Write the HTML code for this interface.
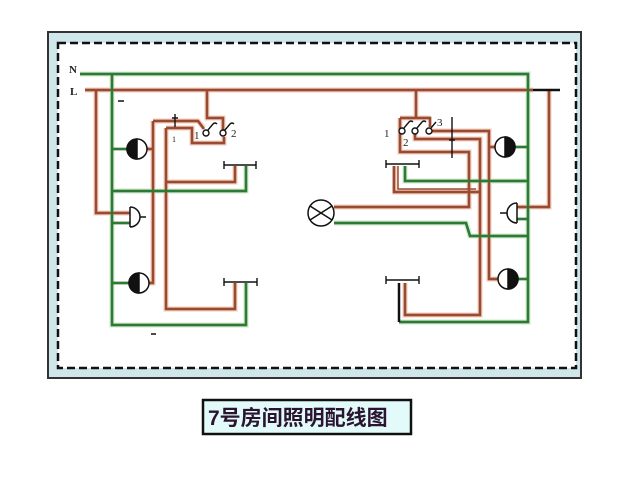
<!DOCTYPE html>
<html><head><meta charset="utf-8"><style>
html,body{margin:0;padding:0;background:#fff;width:640px;height:480px;overflow:hidden}
svg{display:block}
.br{fill:none;stroke:#9a4a30;stroke-width:2.7;stroke-linejoin:miter}
.brh{fill:none;stroke:#f8dccf;stroke-width:5.5}
.gr{fill:none;stroke:#2e7a34;stroke-width:2.7}
.grh{fill:none;stroke:#ddf0dd;stroke-width:5.5}
.bk{fill:none;stroke:#111;stroke-width:1.4}
.t{font-family:"Liberation Serif",serif;font-size:11px;fill:#222}
</style></head><body>
<svg width="640" height="480" viewBox="0 0 640 480" xmlns="http://www.w3.org/2000/svg">
<!-- frame -->
<rect x="48" y="32" width="533" height="346" fill="#cfe6ea" stroke="#333" stroke-width="2"/>
<rect x="58" y="43" width="518" height="325" fill="#fff" stroke="#111" stroke-width="2.5" stroke-dasharray="8,4"/>

<!-- halos -->
<g class="brh">
<path d="M85,90 H533"/>
<path d="M96,90 V213 H130"/>
<path d="M207,90 V118 H223 V131"/>
<path d="M153,121 H198 L204,128 M153,121 V283 H149 M147,149 H153"/>
<path d="M166,128 H192 V143 H224 V136 M166,128 V309 H235 V283"/>
<path d="M166,182 H235 V166"/>
<path d="M416,90 V118 M400,118 H430 M400,118 V152 H469 V207 H334"/>
<path d="M415,134 V139 H480 V315 H405 V283"/>
<path d="M432,131 H489 V279 H498 M489,147 H495"/>
<path d="M395,166 V192 H479"/>
<path d="M549,90 V207 H517"/>
</g>
<g class="grh">
<path d="M80,74 H528 V322 H399"/>
<path d="M112,74 V325 H246 V283"/>
<path d="M112,191 H246 V166"/>
<path d="M405,166 V181 H528"/>
<path d="M334,223 H466 L470,236 H528"/>
</g>

<!-- brown wires -->
<g class="br">
<path d="M85,90 H533"/>
<path d="M96,90 V213 H130"/>
<path d="M207,90 V118 H223 V130"/>
<path d="M153,121 H198 L204,129"/>
<path d="M153,121 V283 H149"/>
<path d="M147,149 H153"/>
<path d="M166,128 H192 V143 H224 V137"/>
<path d="M166,128 V309 H235 V283"/>
<path d="M166,182 H235 V166"/>
<path d="M416,90 V118"/>
<path d="M400,118 H430 V127"/>
<path d="M400,118 V152 H469 V207 H334"/>
<path d="M415,134 V139 H480 V315 H405 V283"/>
<path d="M432,131 H489 V279 H498"/>
<path d="M489,147 H495"/>
<path d="M394,166 V192 H479"/>
<path d="M398,166 V189 H476" style="stroke-width:1.5"/>
<path d="M549,90 V207 H517"/>
</g>

<!-- green wires -->
<g class="gr">
<path d="M80,74 H528 V322 H399"/>
<path d="M112,74 V325 H246 V283"/>
<path d="M112,149 H127"/>
<path d="M112,191 H246 V166"/>
<path d="M112,223 H130"/>
<path d="M112,283 H129"/>
<path d="M405,166 V181 H528"/>
<path d="M334,223 H466 L470,236 H528"/>
<path d="M515,147 H528"/>
<path d="M517,219 H528"/>
<path d="M518,279 H528"/>
</g>

<!-- black bits -->
<path d="M533,90 H560" stroke="#111" stroke-width="2.5"/>
<path d="M399,283 V322" stroke="#111" stroke-width="2.5"/>

<!-- switch symbols -->
<g class="bk">
<path d="M224,165 H256 M224,161 V169 M256,161 V169"/>
<path d="M224,282 H257 M224,278 V286 M257,278 V286"/>
<path d="M386,164 H419 M386,160 V168 M419,160 V168"/>
<path d="M386,280 H419 M386,276 V284 M419,276 V284"/>
<!-- cut marks -->
<path d="M175,114 V127 M172,118 H178"/>
<path d="M452,117 V158 M449,140 H455"/>
<!-- small dashes -->
<path d="M118,101 H124 M151,334 H156"/>
</g>

<!-- switch contacts -->
<g stroke="#111" stroke-width="1.4" fill="#fff">
<circle cx="206" cy="133" r="3"/>
<circle cx="223" cy="133" r="3"/>
<circle cx="402" cy="131" r="3"/>
<circle cx="415" cy="131" r="3"/>
<circle cx="429" cy="131" r="3"/>
</g>
<g class="bk">
<path d="M208,130 L213,124 Q215,122 217,124"/>
<path d="M225,130 L230,124 Q232,122 234,124"/>
<path d="M404,128 L409,122 Q411,120 413,122"/>
<path d="M417,128 L422,122 Q424,120 426,122"/>
<path d="M431,128 L436,122"/>
</g>

<!-- lamps -->
<g stroke="#111" stroke-width="1.5">
<circle cx="137" cy="149" r="10" fill="#fff"/>
<path d="M137,139 A10,10 0 0 0 137,159 Z" fill="#111"/>
<circle cx="139" cy="283" r="10" fill="#fff"/>
<path d="M139,273 A10,10 0 0 0 139,293 Z" fill="#111"/>
<circle cx="505" cy="147" r="10" fill="#fff"/>
<path d="M505,137 A10,10 0 0 1 505,157 Z" fill="#111"/>
<circle cx="508" cy="279" r="10" fill="#fff"/>
<path d="M508,269 A10,10 0 0 1 508,289 Z" fill="#111"/>
<circle cx="321" cy="213" r="13" fill="#fff"/>
<path d="M310,206 L332,220 M310,220 L332,206" fill="none"/>
</g>

<!-- sockets -->
<g class="bk" style="stroke-width:1.5">
<path d="M130,207 V227 M130,207 A10,10 0 0 1 130,227 M140,217 H146"/>
<path d="M517,203 V223 M517,203 A10,10 0 0 0 517,223 M507,213 H500"/>
</g>

<!-- labels -->
<text x="69" y="73" class="t" style="font-weight:bold;font-size:11px">N</text>
<text x="70" y="95" class="t" style="font-weight:bold;font-size:11px">L</text>
<text x="194" y="139" class="t">1</text>
<text x="231" y="137" class="t">2</text>
<text x="172" y="142" class="t" style="font-size:8px">1</text>
<text x="384" y="137" class="t">1</text>
<text x="403" y="146" class="t">2</text>
<text x="437" y="126" class="t">3</text>

<!-- title -->
<rect x="203" y="400" width="208" height="34" fill="#e2fafa" stroke="#111" stroke-width="2.5"/>
<text x="208" y="425" style="font-family:'Liberation Sans','Noto Sans CJK SC',sans-serif;font-weight:bold;font-size:21px;fill:#2a1430">7号房间照明配线图</text>
</svg>
</body></html>
